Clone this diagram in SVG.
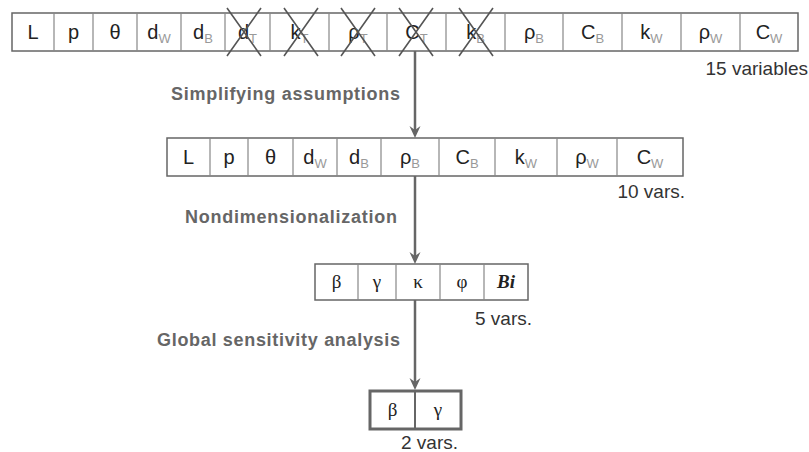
<svg xmlns="http://www.w3.org/2000/svg" width="809" height="452" viewBox="0 0 809 452">
<style>
  .box{fill:#fff;stroke:#666;stroke-width:1.5}
  .div{stroke:#888;stroke-width:1.2}
  .v{font-family:"Liberation Sans",Arial,sans-serif;font-size:20px;fill:#222;text-anchor:middle}
  .sub{font-size:13px;fill:#999}
  .g{font-family:"Liberation Serif","Times New Roman",serif;font-size:19px;fill:#222;text-anchor:middle}
  .bi{font-weight:bold;font-style:italic}
  .x{stroke:#555;stroke-width:1.6;fill:none}
  .lbl{font-family:"Liberation Sans",Arial,sans-serif;font-size:18px;font-weight:bold;fill:#666}
  .ann{font-family:"Liberation Sans",Arial,sans-serif;font-size:19px;fill:#333;text-anchor:end}
  .arr{stroke:#666;stroke-width:2.5;fill:none}
</style>
<defs>
  <marker id="ah" markerUnits="userSpaceOnUse" viewBox="0 0 12 12" markerWidth="12" markerHeight="12" refX="6" refY="6" orient="auto">
    <path d="M0,0.5 L12,6 L0,11.5 L4,6 Z" fill="#666"/>
  </marker>
</defs>

<g id="row15">
  <rect class="box" x="12" y="13" width="786" height="38"/>
  <path class="div" d="M54,13V51M93,13V51M137,13V51M181,13V51M225,13V51M270,13V51M329,13V51M387,13V51M446,13V51M505,13V51M563,13V51M622,13V51M681,13V51M740,13V51"/>
  <text class="v" x="33" y="39">L</text>
  <text class="v" x="73.5" y="39">p</text>
  <text class="v" x="115" y="39">θ</text>
  <text class="v" x="159" y="39">d<tspan class="sub" dy="4">W</tspan></text>
  <text class="v" x="203" y="39">d<tspan class="sub" dy="4">B</tspan></text>
  <text class="v" x="247.5" y="39">d<tspan class="sub" dy="4">T</tspan></text>
  <text class="v" x="299.5" y="39">k<tspan class="sub" dy="4">T</tspan></text>
  <text class="v" x="358" y="39">ρ<tspan class="sub" dy="4">T</tspan></text>
  <text class="v" x="416.5" y="39">C<tspan class="sub" dy="4">T</tspan></text>
  <text class="v" x="475.5" y="39">k<tspan class="sub" dy="4">B</tspan></text>
  <text class="v" x="534" y="39">ρ<tspan class="sub" dy="4">B</tspan></text>
  <text class="v" x="592.5" y="39">C<tspan class="sub" dy="4">B</tspan></text>
  <text class="v" x="651.5" y="39">k<tspan class="sub" dy="4">W</tspan></text>
  <text class="v" x="710.5" y="39">ρ<tspan class="sub" dy="4">W</tspan></text>
  <text class="v" x="769" y="39">C<tspan class="sub" dy="4">W</tspan></text>
  <path class="x" d="M227,8L261,56M261,8L227,56"/>
  <path class="x" d="M284,8L318,56M318,8L284,56"/>
  <path class="x" d="M341,8L375,56M375,8L341,56"/>
  <path class="x" d="M399,8L433,56M433,8L399,56"/>
  <path class="x" d="M459,8L493,56M493,8L459,56"/>
  <text class="ann" x="808" y="75">15 variables</text>
</g>

<g id="row10">
  <rect class="box" x="167" y="138" width="516" height="38"/>
  <path class="div" d="M210,138V176M248,138V176M293,138V176M337,138V176M381,138V176M439,138V176M495,138V176M557,138V176M617,138V176"/>
  <text class="v" x="188.5" y="164">L</text>
  <text class="v" x="229" y="164">p</text>
  <text class="v" x="270.5" y="164">θ</text>
  <text class="v" x="315" y="164">d<tspan class="sub" dy="4">W</tspan></text>
  <text class="v" x="359" y="164">d<tspan class="sub" dy="4">B</tspan></text>
  <text class="v" x="410" y="164">ρ<tspan class="sub" dy="4">B</tspan></text>
  <text class="v" x="467" y="164">C<tspan class="sub" dy="4">B</tspan></text>
  <text class="v" x="526" y="164">k<tspan class="sub" dy="4">W</tspan></text>
  <text class="v" x="587" y="164">ρ<tspan class="sub" dy="4">W</tspan></text>
  <text class="v" x="650" y="164">C<tspan class="sub" dy="4">W</tspan></text>
  <text class="ann" x="685" y="198">10 vars.</text>
</g>

<g id="row5">
  <rect class="box" x="315" y="264" width="213" height="36"/>
  <path class="div" d="M358,264V300M396,264V300M440,264V300M484,264V300"/>
  <text class="g" x="336.5" y="288">β</text>
  <text class="g" x="377" y="288">γ</text>
  <text class="g" x="418" y="288">κ</text>
  <text class="g" x="462" y="288">φ</text>
  <text class="g bi" x="506" y="288">Bi</text>
  <text class="ann" x="532" y="325">5 vars.</text>
</g>

<g id="row2">
  <rect x="370" y="391" width="91" height="38" fill="#fff" stroke="#666" stroke-width="3"/>
  <line x1="415" y1="391" x2="415" y2="429" stroke="#666" stroke-width="2"/>
  <text class="g" x="392.5" y="416">β</text>
  <text class="g" x="438" y="416">γ</text>
  <text class="ann" x="458" y="449">2 vars.</text>
</g>

<g id="connectors">
  <line class="arr" x1="415" y1="51" x2="415" y2="132" marker-end="url(#ah)"/>
  <line class="arr" x1="415" y1="176" x2="415" y2="258" marker-end="url(#ah)"/>
  <line class="arr" x1="415" y1="300" x2="415" y2="384" marker-end="url(#ah)"/>
  <text class="lbl" x="171" y="100" textLength="229" lengthAdjust="spacing">Simplifying assumptions</text>
  <text class="lbl" x="185" y="223" textLength="212" lengthAdjust="spacing">Nondimensionalization</text>
  <text class="lbl" x="157" y="346" textLength="243" lengthAdjust="spacing">Global sensitivity analysis</text>
</g>
</svg>
